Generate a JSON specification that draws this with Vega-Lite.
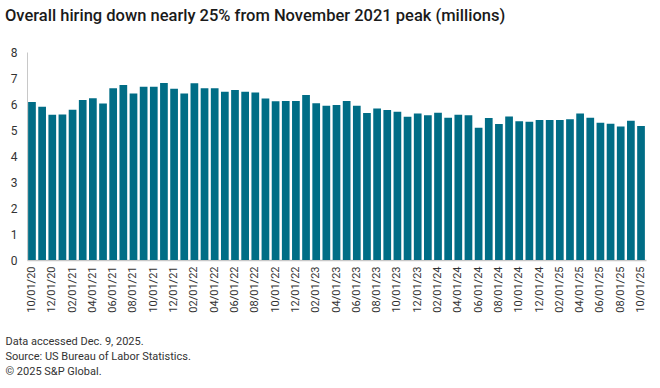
{
  "$schema": "https://vega.github.io/schema/vega-lite/v6.json",
  "width": 619,
  "height": 208,
  "autosize": "none",
  "padding": {"left": 27, "top": 52, "right": 14, "bottom": 128},
  "background": "white",
  "title": {
    "text": "Overall hiring down nearly 25% from November 2021 peak (millions)",
    "anchor": "start",
    "frame": "group",
    "dx": -22,
    "offset": 22,
    "font": "Roboto",
    "fontSize": 16.5,
    "fontWeight": 500,
    "color": "#1a1a1a"
  },
  "config": {
    "view": {"stroke": null},
    "font": "Roboto"
  },
  "data": {
    "values": [
      {"date": "10/01/20", "hires": 6.08},
      {"date": "11/01/20", "hires": 5.89},
      {"date": "12/01/20", "hires": 5.59},
      {"date": "01/01/21", "hires": 5.60},
      {"date": "02/01/21", "hires": 5.78},
      {"date": "03/01/21", "hires": 6.15},
      {"date": "04/01/21", "hires": 6.22},
      {"date": "05/01/21", "hires": 6.02},
      {"date": "06/01/21", "hires": 6.61},
      {"date": "07/01/21", "hires": 6.73},
      {"date": "08/01/21", "hires": 6.40},
      {"date": "09/01/21", "hires": 6.66},
      {"date": "10/01/21", "hires": 6.66},
      {"date": "11/01/21", "hires": 6.81},
      {"date": "12/01/21", "hires": 6.59},
      {"date": "01/01/22", "hires": 6.40},
      {"date": "02/01/22", "hires": 6.80},
      {"date": "03/01/22", "hires": 6.61},
      {"date": "04/01/22", "hires": 6.61},
      {"date": "05/01/22", "hires": 6.47},
      {"date": "06/01/22", "hires": 6.54},
      {"date": "07/01/22", "hires": 6.47},
      {"date": "08/01/22", "hires": 6.44},
      {"date": "09/01/22", "hires": 6.21},
      {"date": "10/01/22", "hires": 6.11},
      {"date": "11/01/22", "hires": 6.12},
      {"date": "12/01/22", "hires": 6.12},
      {"date": "01/01/23", "hires": 6.35},
      {"date": "02/01/23", "hires": 6.03},
      {"date": "03/01/23", "hires": 5.93},
      {"date": "04/01/23", "hires": 5.96},
      {"date": "05/01/23", "hires": 6.12},
      {"date": "06/01/23", "hires": 5.93},
      {"date": "07/01/23", "hires": 5.65},
      {"date": "08/01/23", "hires": 5.83},
      {"date": "09/01/23", "hires": 5.77},
      {"date": "10/01/23", "hires": 5.70},
      {"date": "11/01/23", "hires": 5.51},
      {"date": "12/01/23", "hires": 5.63},
      {"date": "01/01/24", "hires": 5.57},
      {"date": "02/01/24", "hires": 5.66},
      {"date": "03/01/24", "hires": 5.47},
      {"date": "04/01/24", "hires": 5.59},
      {"date": "05/01/24", "hires": 5.57},
      {"date": "06/01/24", "hires": 5.09},
      {"date": "07/01/24", "hires": 5.46},
      {"date": "08/01/24", "hires": 5.23},
      {"date": "09/01/24", "hires": 5.52},
      {"date": "10/01/24", "hires": 5.34},
      {"date": "11/01/24", "hires": 5.32},
      {"date": "12/01/24", "hires": 5.38},
      {"date": "01/01/25", "hires": 5.38},
      {"date": "02/01/25", "hires": 5.38},
      {"date": "03/01/25", "hires": 5.41},
      {"date": "04/01/25", "hires": 5.63},
      {"date": "05/01/25", "hires": 5.47},
      {"date": "06/01/25", "hires": 5.28},
      {"date": "07/01/25", "hires": 5.24},
      {"date": "08/01/25", "hires": 5.13},
      {"date": "09/01/25", "hires": 5.36},
      {"date": "10/01/25", "hires": 5.15}
    ]
  },
  "mark": {"type": "bar", "color": "#006d86"},
  "encoding": {
    "x": {
      "field": "date",
      "type": "ordinal",
      "sort": null,
      "scale": {"paddingInner": 0.24, "paddingOuter": 0.11},
      "axis": {
        "values": ["10/01/20","12/01/20","02/01/21","04/01/21","06/01/21","08/01/21","10/01/21","12/01/21","02/01/22","04/01/22","06/01/22","08/01/22","10/01/22","12/01/22","02/01/23","04/01/23","06/01/23","08/01/23","10/01/23","12/01/23","02/01/24","04/01/24","06/01/24","08/01/24","10/01/24","12/01/24","02/01/25","04/01/25","06/01/25","08/01/25","10/01/25"],
        "labelAngle": -90,
        "labelFontSize": 11,
        "labelColor": "#333333",
        "labelPadding": 6,
        "ticks": false,
        "domainColor": "#c8c8c8",
        "domainWidth": 1.5,
        "title": ["Data accessed Dec. 9, 2025.", "Source: US Bureau of Labor Statistics.", "© 2025 S&P Global."],
        "titleFontSize": 11,
        "titleFontWeight": "normal",
        "titleColor": "#333333",
        "titleAnchor": "start",
        "titleAlign": "left",
        "titleBaseline": "top",
        "titleLineHeight": 15,
        "titleX": -22,
        "titleY": 75
      }
    },
    "y": {
      "field": "hires",
      "type": "quantitative",
      "scale": {"domain": [0, 8], "nice": false},
      "axis": {
        "values": [0,1,2,3,4,5,6,7,8],
        "grid": false,
        "ticks": false,
        "labelFontSize": 12,
        "labelColor": "#333333",
        "labelPadding": 10,
        "domainColor": "#c8c8c8",
        "domainWidth": 1,
        "title": null
      }
    }
  }
}
